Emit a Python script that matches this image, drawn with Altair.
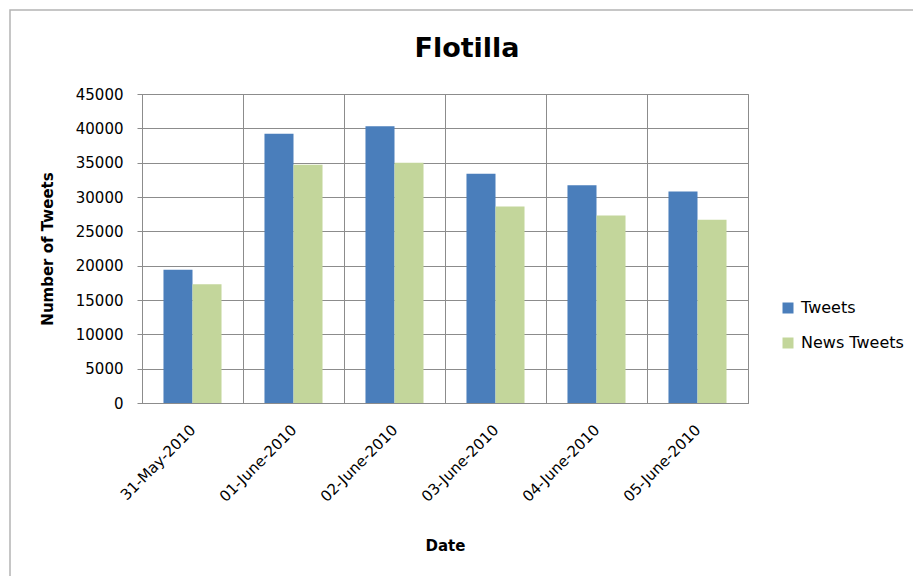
import altair as alt
import pandas as pd

# Daily tweet counts for the flotilla story
dates = ["31-May-2010", "01-June-2010", "02-June-2010",
         "03-June-2010", "04-June-2010", "05-June-2010"]
tweets = [19400, 39200, 40300, 33400, 31700, 30800]
news_tweets = [17300, 34700, 35000, 28600, 27300, 26700]
series = ["Tweets", "News Tweets"]
series_colors = ["#4a7ebb", "#c3d69b"]
y_ticks = list(range(0, 45001, 5000))

rows = []
for d, t, n in zip(dates, tweets, news_tweets):
    rows.append({"Date": d, "Series": "Tweets", "Count": t})
    rows.append({"Date": d, "Series": "News Tweets", "Count": n})
df = pd.DataFrame(rows)

FONT = "DejaVu Sans"
GRID = "#8c8c8c"

bars = alt.Chart(df).mark_bar().encode(
    x=alt.X(
        "Date:N", sort=dates,
        scale=alt.Scale(paddingInner=0, paddingOuter=0),
        axis=alt.Axis(
            title="Date", labelAngle=-45, labelAlign="right",
            labelBaseline="middle", labelPadding=24, ticks=False,
            grid=True, tickBand="extent", gridColor=GRID,
            domainColor=GRID, titlePadding=34,
        ),
    ),
    xOffset=alt.XOffset(
        "Series:N", sort=series,
        scale=alt.Scale(paddingInner=0, paddingOuter=0.74),
    ),
    y=alt.Y(
        "Count:Q",
        scale=alt.Scale(domain=[0, 45000], nice=False),
        axis=alt.Axis(
            title="Number of Tweets", values=y_ticks, format="d",
            tickSize=5, tickColor=GRID, gridColor=GRID, domainColor=GRID,
            labelPadding=14, titlePadding=20,
        ),
    ),
    color=alt.Color(
        "Series:N", sort=series,
        scale=alt.Scale(domain=series, range=series_colors),
        legend=alt.Legend(
            title=None, orient="none", legendX=638, legendY=206,
            symbolType="square", symbolSize=121, symbolStrokeWidth=0,
            labelOffset=5, rowPadding=19,
        ),
    ),
)

# Light frame around the whole chart
frame = alt.Chart(pd.DataFrame({"k": [0]})).mark_rect(
    fill="white", fillOpacity=0, stroke="#b4b4b4", strokeWidth=1.5
).encode(
    x=alt.value(-132), x2=alt.value(790),
    y=alt.value(-84), y2=alt.value(500),
)

chart = alt.layer(bars, frame).properties(
    width=606, height=309,
    autosize=alt.AutoSizeParams(type="none"),
    padding={"left": 142, "top": 94, "right": 165, "bottom": 173},
    title=alt.TitleParams(
        "Flotilla", font=FONT, fontSize=27, fontWeight="bold",
        color="black", anchor="middle", baseline="alphabetic",
        offset=-75, dx=22,
    ),
).configure_view(
    stroke=GRID, strokeWidth=1
).configure_axis(
    labelFont=FONT, labelFontSize=15, labelColor="black",
    titleFont=FONT, titleFontSize=15, titleFontWeight="bold",
    titleColor="black", gridWidth=1, domainWidth=1,
).configure_legend(
    labelFont=FONT, labelFontSize=16, labelColor="black",
)

chart.save("out.html", embed_options={"renderer": "svg", "actions": False})
